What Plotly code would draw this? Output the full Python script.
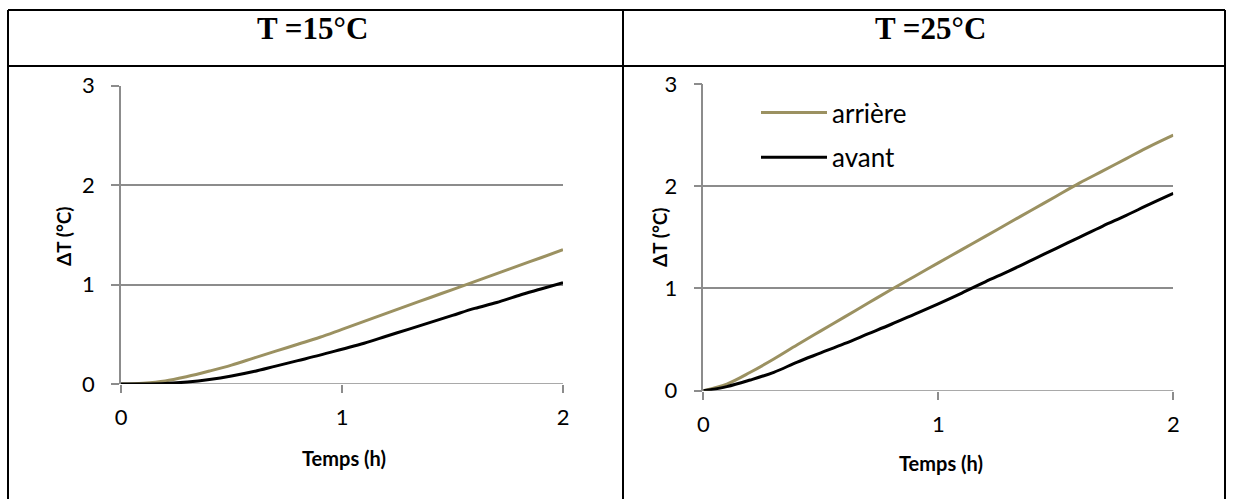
import plotly.graph_objects as go

W, H = 1233, 499

# ---- data ----
time_h = [0.0, 0.1, 0.2, 0.3, 0.4, 0.5, 0.6, 0.7, 0.8, 0.9, 1.0,
          1.1, 1.2, 1.3, 1.4, 1.5, 1.6, 1.7, 1.8, 1.9, 2.0]

arriere_15 = [0.0, 0.008, 0.03, 0.075, 0.13, 0.19, 0.26, 0.33, 0.40, 0.47, 0.55,
              0.63, 0.71, 0.79, 0.87, 0.95, 1.03, 1.11, 1.19, 1.27, 1.35]
avant_15 = [0.0, 0.001, 0.006, 0.02, 0.045, 0.08, 0.125, 0.18, 0.235, 0.29, 0.35,
            0.41, 0.48, 0.55, 0.62, 0.69, 0.76, 0.82, 0.89, 0.955, 1.02]

arriere_25 = [0.0, 0.065, 0.18, 0.31, 0.45, 0.585, 0.72, 0.855, 0.99, 1.12, 1.25,
              1.38, 1.51, 1.64, 1.77, 1.90, 2.03, 2.15, 2.27, 2.39, 2.50]
avant_25 = [0.0, 0.04, 0.105, 0.18, 0.28, 0.37, 0.46, 0.555, 0.65, 0.75, 0.85,
            0.955, 1.065, 1.17, 1.28, 1.39, 1.50, 1.61, 1.715, 1.825, 1.93]

headers = ["T =15°C", "T =25°C"]
series_names = ["arrière", "avant"]
x_ticks = [0, 1, 2]
y_ticks = [0, 1, 2, 3]
x_title = "Temps (h)"
y_title = "ΔT (°C)"

GOLD = "#9B9161"
BLACK = "#000000"
GRID = "#8C8C8C"
FONT = "Lato, 'Open Sans', sans-serif"


def px_x(p):
    return p / W


def px_y(p):
    return 1 - p / H


fig = go.Figure()

# left chart (15 °C)
fig.add_trace(go.Scatter(x=time_h, y=arriere_15, mode="lines", name=series_names[0],
                         line=dict(color=GOLD, width=3, shape="spline"),
                         xaxis="x", yaxis="y", showlegend=False))
fig.add_trace(go.Scatter(x=time_h, y=avant_15, mode="lines", name=series_names[1],
                         line=dict(color=BLACK, width=3, shape="spline"),
                         xaxis="x", yaxis="y", showlegend=False))
# right chart (25 °C)
fig.add_trace(go.Scatter(x=time_h, y=arriere_25, mode="lines", name=series_names[0],
                         line=dict(color=GOLD, width=3, shape="spline"),
                         xaxis="x2", yaxis="y2", legendgroup="a"))
fig.add_trace(go.Scatter(x=time_h, y=avant_25, mode="lines", name=series_names[1],
                         line=dict(color=BLACK, width=3, shape="spline"),
                         xaxis="x2", yaxis="y2", legendgroup="b"))

xaxis_common = dict(range=[0, 2], tickvals=x_ticks, showgrid=False, zeroline=False,
                    showline=False, ticks="outside", ticklen=8, tickwidth=1.5,
                    tickcolor=GRID, tickfont=dict(family=FONT, size=22, color="#000"),
                    ticklabelstandoff=6, fixedrange=True, automargin=False)
yaxis_common = dict(range=[0, 3], tickvals=y_ticks, showgrid=True, gridcolor=GRID,
                    gridwidth=1.5, zeroline=False, showline=True, linecolor=GRID,
                    linewidth=1.5, ticks="outside", ticklen=8, tickwidth=1.5,
                    tickcolor=GRID, tickfont=dict(family=FONT, size=22, color="#000"),
                    ticklabelstandoff=12, fixedrange=True, automargin=False)

L = dict(x0=121, x1=563, y0=85.7, y1=384)
R = dict(x0=703.3, x1=1173.3, y0=84, y1=390.7)

fig.update_layout(
    template="none",
    width=W, height=H,
    margin=dict(l=0, r=0, t=0, b=0, pad=0, autoexpand=False),
    paper_bgcolor="white", plot_bgcolor="white",
    xaxis=dict(domain=[px_x(L["x0"]), px_x(L["x1"])], anchor="y", **xaxis_common),
    yaxis=dict(domain=[px_y(L["y1"]), px_y(L["y0"])], anchor="x", **yaxis_common),
    xaxis2=dict(domain=[px_x(R["x0"]), px_x(R["x1"])], anchor="y2", **xaxis_common),
    yaxis2=dict(domain=[px_y(R["y1"]), px_y(R["y0"])], anchor="x2", **yaxis_common),
    legend=dict(x=px_x(756), y=px_y(89), xanchor="left", yanchor="top",
                font=dict(family=FONT, size=26, color="#000"),
                bgcolor="rgba(0,0,0,0)", borderwidth=0,
                tracegroupgap=8, itemwidth=66),
    showlegend=True,
)

# x-axis baseline at 0
for xa, ya in (("x", "y"), ("x2", "y2")):
    fig.add_shape(type="line", xref=f"{xa} domain", yref=ya, x0=0, x1=1, y0=0, y1=0,
                  line=dict(color=GRID, width=1.5), layer="below")

# axis titles
annots = []
for cx, cy in ((344, 458), (941, 463)):
    annots.append(dict(x=px_x(cx), y=px_y(cy), xref="paper", yref="paper",
                       xanchor="center", yanchor="middle",
                       text=f"<b>{x_title}</b>", showarrow=False,
                       font=dict(family=FONT, size=20, color="#000")))
for cx, cy in ((63, 236), (660, 237)):
    annots.append(dict(x=px_x(cx), y=px_y(cy), xref="paper", yref="paper",
                       xanchor="center", yanchor="middle",
                       text=f"<b>{y_title}</b>", showarrow=False, textangle=-90,
                       font=dict(family=FONT, size=19, color="#000")))
# header cells
for cx, txt in ((312, headers[0]), (930, headers[1])):
    annots.append(dict(x=px_x(cx), y=px_y(28), xref="paper", yref="paper",
                       xanchor="center", yanchor="middle",
                       text=f"<b>{txt}</b>", showarrow=False,
                       font=dict(family="'Liberation Serif', 'Times New Roman', serif",
                                 size=31, color="#000")))
fig.update_layout(annotations=annots)

# table borders
TB = dict(color="#000", width=2)
fig.add_shape(type="line", xref="paper", yref="paper", x0=px_x(8), x1=px_x(1225),
              y0=px_y(10), y1=px_y(10), line=TB)
fig.add_shape(type="line", xref="paper", yref="paper", x0=px_x(8), x1=px_x(1225),
              y0=px_y(66), y1=px_y(66), line=TB)
for xp in (8, 623, 1225):
    fig.add_shape(type="line", xref="paper", yref="paper", x0=px_x(xp), x1=px_x(xp),
                  y0=px_y(10), y1=0, line=TB)

fig.write_html("out.html", config={"displayModeBar": False},
               post_script="document.body.style.margin='0';document.body.style.overflow='hidden';")
